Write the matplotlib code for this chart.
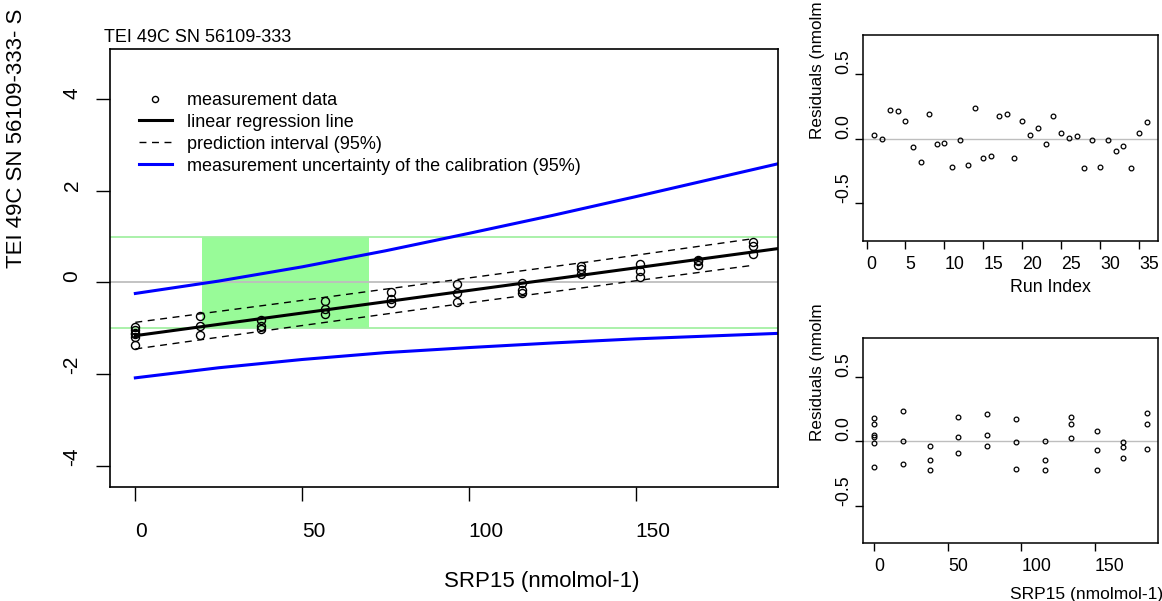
# calibration plot: SRP15 vs TEI 49C difference, with residual panels

import matplotlib.pyplot as plt
from matplotlib.lines import Line2D

plt.rcParams['font.family'] = ['Liberation Sans', 'DejaVu Sans']
plt.rcParams['axes.unicode_minus'] = False

W, H = 1162, 601

# measurements (SRP15 level, instrument - SRP15)
meas_x = [0, 0, 0, 0, 0, 0,
          19.5, 19.5, 19.5,
          37.6, 37.6, 37.6,
          57.0, 57.0, 57.0,
          76.8, 76.8, 76.8,
          96.3, 96.3, 96.3,
          116.0, 116.0, 116.0,
          133.6, 133.6, 133.6,
          151.3, 151.3, 151.3,
          168.6, 168.6, 168.6,
          185.3, 185.3, 185.3]
meas_y = [-0.98, -1.03, -1.11, -1.12, -1.18, -1.36,
          -0.73, -0.96, -1.14,
          -0.82, -0.94, -1.01,
          -0.41, -0.57, -0.69,
          -0.20, -0.36, -0.45,
          -0.04, -0.22, -0.43,
          -0.02, -0.16, -0.24,
          0.35, 0.29, 0.18,
          0.41, 0.26, 0.11,
          0.50, 0.46, 0.37,
          0.88, 0.80, 0.61]
meas_resid = [0.18, 0.13, 0.045, 0.035, -0.015, -0.20,
              0.235, 0.005, -0.175,
              -0.035, -0.145, -0.225,
              0.19, 0.03, -0.09,
              0.21, 0.045, -0.04,
              0.175, -0.01, -0.215,
              0.0, -0.145, -0.22,
              0.19, 0.135, 0.025,
              0.08, -0.065, -0.225,
              -0.005, -0.045, -0.13,
              0.22, 0.135, -0.06]

# residuals in run order
run_idx = list(range(1, 37))
run_resid = [0.031, 0.0, 0.22, 0.21, 0.137, -0.064, -0.178, 0.193, -0.044,
             -0.034, -0.216, -0.013, -0.201, 0.237, -0.147, -0.131, 0.178,
             0.193, -0.147, 0.137, 0.031, 0.08, -0.044, 0.178, 0.044, 0.005,
             0.023, -0.227, -0.008, -0.222, -0.01, -0.093, -0.059, -0.227,
             0.044, 0.131]

# regression line
fit_x = [0, 200]
fit_y = [-1.16, 0.81]

# prediction interval (95%)
pi_x = [0, 46, 92, 139, 185.3]
pi_upper = [-0.87, -0.43, 0.02, 0.48, 0.955]
pi_lower = [-1.45, -0.98, -0.52, -0.07, 0.375]

# measurement uncertainty of the calibration (95%)
unc_x = [0, 25, 50, 75, 100, 125, 150, 175, 200]
unc_upper = [-0.24, 0.03, 0.34, 0.69, 1.07, 1.46, 1.87, 2.29, 2.71]
unc_lower = [-2.08, -1.86, -1.68, -1.53, -1.42, -1.32, -1.23, -1.16, -1.09]

# target region
target_x = [20, 70]
tol_band = [-1, 1]

legend_labels = ["measurement data", "linear regression line",
                 "prediction interval (95%)",
                 "measurement uncertainty of the calibration (95%)"]


def px_rect(l, t, r, b):
    return [l / W, 1 - b / H, (r - l) / W, (b - t) / H]


fig = plt.figure(figsize=(W / 100, H / 100), dpi=100)
ax = fig.add_axes(px_rect(110, 49, 778, 487))
ax_run = fig.add_axes(px_rect(863, 35, 1158, 241))
ax_res = fig.add_axes(px_rect(863, 338, 1158, 543))

# --- main panel
ax.fill_between(target_x, tol_band[0], tol_band[1], color='#98fb98', lw=0, zorder=1)
for v in tol_band:
    ax.axhline(v, color='#a4f0a4', lw=1.3, zorder=1)
ax.axhline(0, color='#bebebe', lw=1.3, zorder=1.5)
unc_line, = ax.plot(unc_x, unc_upper, color='blue', lw=2.2, zorder=2)
ax.plot(unc_x, unc_lower, color='blue', lw=2.2, zorder=2)
pi_line, = ax.plot(pi_x, pi_upper, color='black', lw=1, ls=(0, (5, 4)), zorder=3)
ax.plot(pi_x, pi_lower, color='black', lw=1, ls=(0, (5, 4)), zorder=3)
fit_line, = ax.plot(fit_x, fit_y, color='black', lw=2.2, zorder=4)
ax.plot(meas_x, meas_y, ls='none', marker='o', ms=5.8, mfc='none',
        mec='black', mew=1, zorder=5)

ax.set_xlim(-7.6, 192.7)
ax.set_ylim(-4.46, 5.09)
ax.set_xticks([0, 50, 100, 150])
ax.set_yticks([-4, -2, 0, 2, 4])
ax.tick_params(direction='out', length=10, width=1, labelsize=15)
ax.tick_params(axis='x', pad=15)
ax.tick_params(axis='y', pad=10.5, labelrotation=90)
plt.setp(ax.get_xticklabels(), ha='left')
plt.setp(ax.get_yticklabels(), va='bottom')
for s in ax.spines.values():
    s.set_linewidth(1.2)

h_pts = Line2D([], [], ls='none', marker='o', ms=4.4, mfc='none', mec='black', mew=1)
ax.legend([h_pts, fit_line, pi_line, unc_line], legend_labels,
          loc='upper left', bbox_to_anchor=(0.043, 0.902), frameon=False,
          fontsize=13, handlelength=1.85, handletextpad=0.85,
          labelspacing=0.27, borderpad=0, borderaxespad=0)

fig.text(104 / W, 1 - 37 / H, "TEI 49C SN 56109-333", ha='left', va='center', fontsize=13)
fig.text(444 / W, 1 - 582 / H, "SRP15 (nmolmol-1)", ha='left', va='center', fontsize=16)
# axis title runs off the top of the figure in the original
fig.text(17 / W, 1 - 268 / H, "TEI 49C SN 56109-333- S",
         rotation=90, ha='center', va='bottom', fontsize=16)

# --- residual panels
for a in (ax_run, ax_res):
    a.axhline(0, color='#bebebe', lw=1, zorder=1)
    a.set_ylim(-0.79, 0.80)
    a.set_yticks([-0.5, 0.0, 0.5])
    a.set_yticklabels(["-0.5", "0.0", "0.5"])
    a.tick_params(direction='out', length=6, width=1, labelsize=12.8)
    a.tick_params(axis='x', pad=5)
    a.tick_params(axis='y', pad=1.5, labelrotation=90)
    for s in a.spines.values():
        s.set_linewidth(1.1)

ax_run.plot(run_idx, run_resid, ls='none', marker='o', ms=3.4, mfc='none',
            mec='black', mew=0.9, zorder=3)
ax_run.set_xlim(-0.45, 37.45)
ax_run.set_xticks([0, 5, 10, 15, 20, 25, 30, 35])

ax_res.plot(meas_x, meas_resid, ls='none', marker='o', ms=3.4, mfc='none',
            mec='black', mew=0.9, zorder=3)
ax_res.set_xlim(-7.6, 192.7)
ax_res.set_xticks([0, 50, 100, 150])

for a in (ax_run, ax_res):
    plt.setp(a.get_xticklabels(), ha='left')
    plt.setp(a.get_yticklabels(), va='bottom')

fig.text(1010 / W, 1 - 287 / H, "Run Index", ha='left', va='center', fontsize=12.8)
fig.text(1010 / W, 1 - 594 / H, "SRP15 (nmolmol-1)", ha='left', va='center', fontsize=12.5)
fig.text(818 / W, 1 - 139 / H, "Residuals (nmolm", rotation=90,
         ha='center', va='bottom', fontsize=12.3)
fig.text(818 / W, 1 - 441 / H, "Residuals (nmolm", rotation=90,
         ha='center', va='bottom', fontsize=12.3)

fig.savefig("out.png", dpi=100)
